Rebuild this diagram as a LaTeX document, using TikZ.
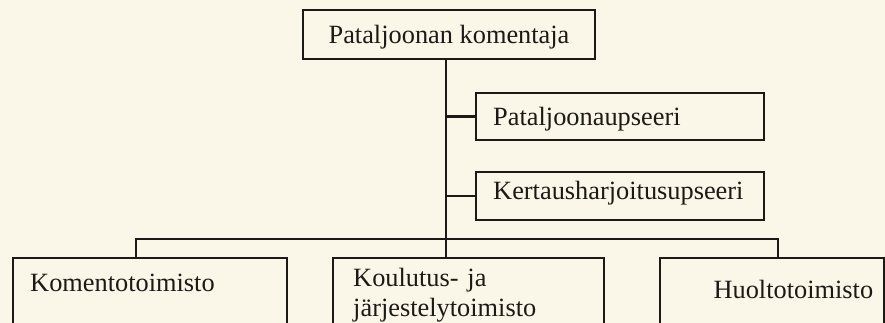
\documentclass[tikz,border=0pt]{standalone}
\usepackage{fontspec}
\setmainfont{Liberation Serif}
\definecolor{paper}{RGB}{251,247,232}
\definecolor{ink}{RGB}{28,26,24}

\begin{document}
\begin{tikzpicture}[ x=0.02cm, y=-0.02cm, font=\fontsize{15}{17}\selectfont,
      box/.style={ draw=ink, line width=1.4pt, text=ink },
      post/.style={ box, text height=10pt, text depth=0pt },
      staff/.style={ post, anchor=west, align=left, inner xsep=0.34cm,
      text width=5.08cm, minimum height=0.94cm },
      office/.style={ box, anchor=north west, align=left, inner ysep=0pt,
      text depth=2cm },
      link/.style={ draw=ink, line width=1.4pt } ]

    \fill[paper] (0,0) rectangle (885,323);
    \useasboundingbox (0,0) rectangle (885,323);
    \clip (0,0) rectangle (885,323);

    \node[post, minimum width=5.84cm, minimum height=0.98cm] (komentaja) at
    (449,34.5) {Pataljoonan komentaja};

    \node[staff] (upseeri) at (475,116.5) {Pataljoonaupseeri};
    \node[staff, text depth=5.5pt, minimum height=0.96cm] (kertaus) at
    (475,196) {Kertausharjoitusupseeri};

    \node[office, inner xsep=0.34cm, text width=4.8cm, text height=0.66cm]
    (komento) at (12,257) {Komentotoimisto};
    \node[office, inner xsep=0.4cm, text width=4.62cm, text height=0.56cm]
    (koulutus) at (332,257) {Koulutus- ja\\ järjestelytoimisto};
    \node[office, align=right, inner xsep=0.22cm, text width=4.04cm,
    text height=0.8cm] (huolto) at (659,257) {Huoltotoimisto};

    \coordinate (trunk) at (446,239);
    \coordinate (barleft) at (136,239);
    \coordinate (barright) at (778,239);

    \draw[link] (komentaja.south -| trunk) -- (trunk |- koulutus.north);
    \draw[link] (upseeri.west) -- (upseeri.west -| trunk);
    \draw[link] (kertaus.west) -- (kertaus.west -| trunk);
    \draw[link] (barleft |- komento.north) -- (barleft) -- (barright) --
    (barright |- huolto.north);

  \end{tikzpicture}
\end{document}
